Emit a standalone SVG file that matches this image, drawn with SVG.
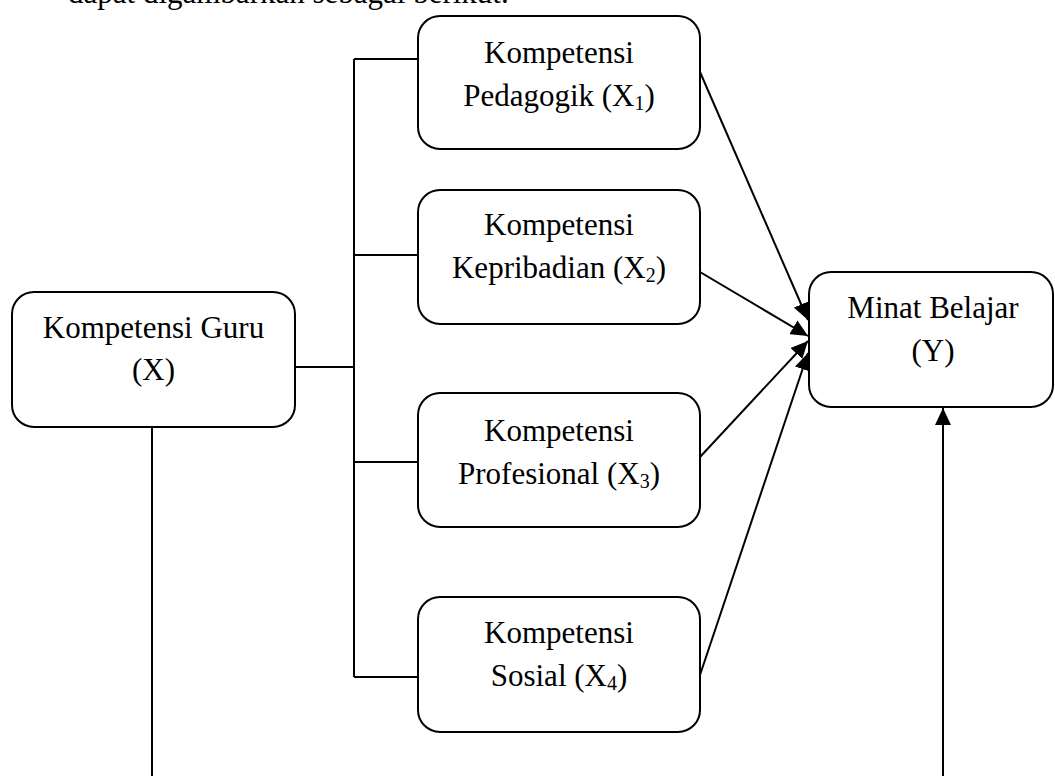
<svg xmlns="http://www.w3.org/2000/svg" width="1055" height="776" viewBox="0 0 1055 776">
<style>
.box{fill:#fff;stroke:#000;stroke-width:2}
.t{font-family:"Liberation Serif","Times New Roman",serif;font-size:31px;fill:#000;text-anchor:middle}
.sub{font-size:20px}
.ln{fill:none;stroke:#000;stroke-width:2}
</style>
<defs>
<marker id="ah" markerUnits="userSpaceOnUse" markerWidth="18" markerHeight="16" refX="17" refY="8" orient="auto">
<path d="M0,0 L17,8 L0,16 z" fill="#000"/>
</marker>
</defs>
<rect width="1055" height="776" fill="#fff"/>
<text class="t" x="68" y="3" style="text-anchor:start">dapat digambarkan sebagai berikut.</text>
<g id="connectors">
<polyline class="ln" points="295,367 354,367"/>
<line class="ln" x1="354" y1="59" x2="354" y2="677"/>
<line class="ln" x1="354" y1="59" x2="418" y2="59"/>
<line class="ln" x1="354" y1="255" x2="418" y2="255"/>
<line class="ln" x1="354" y1="462" x2="418" y2="462"/>
<line class="ln" x1="354" y1="677" x2="418" y2="677"/>
<line class="ln" x1="700" y1="72" x2="808" y2="320" marker-end="url(#ah)"/>
<line class="ln" x1="700" y1="272" x2="808" y2="336" marker-end="url(#ah)"/>
<line class="ln" x1="700" y1="457" x2="808" y2="341" marker-end="url(#ah)"/>
<line class="ln" x1="700" y1="675" x2="808" y2="353" marker-end="url(#ah)"/>
<line class="ln" x1="152" y1="427" x2="152" y2="776"/>
<line class="ln" x1="943" y1="776" x2="943" y2="408" marker-end="url(#ah)"/>
</g>
<g id="guru">
<rect class="box" x="12" y="292" width="283" height="135" rx="22"/>
<text class="t" x="153.5" y="338">Kompetensi Guru</text>
<text class="t" x="153.5" y="380">(X)</text>
</g>
<g id="x1">
<rect class="box" x="418" y="16" width="282" height="133" rx="22"/>
<text class="t" x="559" y="63">Kompetensi</text>
<text class="t" x="559" y="106">Pedagogik (X<tspan class="sub" dy="4">1</tspan><tspan dy="-4">)</tspan></text>
</g>
<g id="x2">
<rect class="box" x="418" y="190" width="282" height="134" rx="22"/>
<text class="t" x="559" y="235">Kompetensi</text>
<text class="t" x="559" y="278">Kepribadian (X<tspan class="sub" dy="4">2</tspan><tspan dy="-4">)</tspan></text>
</g>
<g id="x3">
<rect class="box" x="418" y="393" width="282" height="134" rx="22"/>
<text class="t" x="559" y="441">Kompetensi</text>
<text class="t" x="559" y="484">Profesional (X<tspan class="sub" dy="4">3</tspan><tspan dy="-4">)</tspan></text>
</g>
<g id="x4">
<rect class="box" x="418" y="597" width="282" height="135" rx="22"/>
<text class="t" x="559" y="643">Kompetensi</text>
<text class="t" x="559" y="686">Sosial (X<tspan class="sub" dy="4">4</tspan><tspan dy="-4">)</tspan></text>
</g>
<g id="y">
<rect class="box" x="809" y="272" width="244" height="135" rx="22"/>
<text class="t" x="933" y="318">Minat Belajar</text>
<text class="t" x="933" y="361">(Y)</text>
</g>
</svg>
